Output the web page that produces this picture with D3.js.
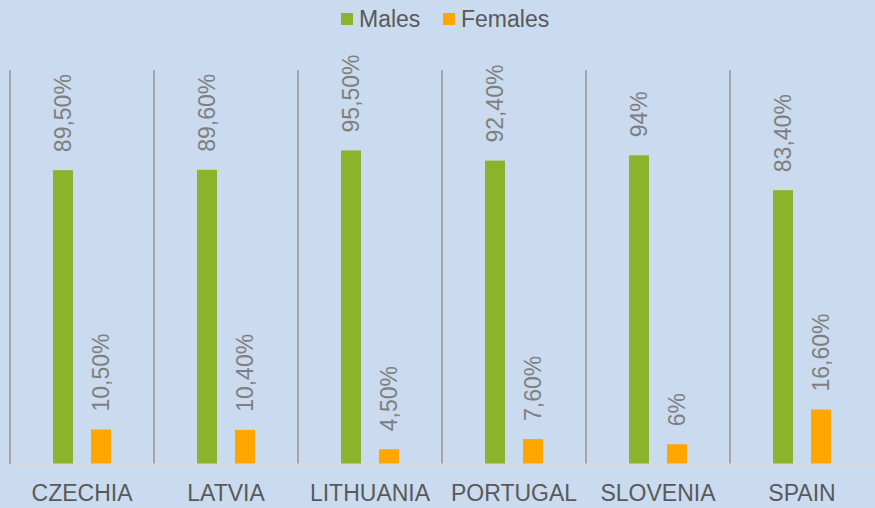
<!DOCTYPE html>
<html>
<head>
<meta charset="utf-8">
<title>Males vs Females</title>
<script src="https://cdn.jsdelivr.net/npm/d3@7"></script>
<style>
  body { margin: 0; background: #cadbf0; }
  svg { display: block; background: #cadbf0; font-family: "Liberation Sans", Arial, sans-serif; }
  .axis path { stroke: #d9d9d9; stroke-width: 2; }
  .axis text { font-size: 23px; fill: #595959; }
</style>
</head>
<body>
<script>
  var countries = ["CZECHIA", "LATVIA", "LITHUANIA", "PORTUGAL", "SLOVENIA", "SPAIN"];
  var series = ["Males", "Females"];
  var males = [89.5, 89.6, 95.5, 92.4, 94, 83.4];
  var females = [10.5, 10.4, 4.5, 7.6, 6, 16.6];
  var maleLabels = ["89,50%", "89,60%", "95,50%", "92,40%", "94%", "83,40%"];
  var femaleLabels = ["10,50%", "10,40%", "4,50%", "7,60%", "6%", "16,60%"];
  var colors = ["#8db32b", "#ffa600"];

  var w = 875, h = 508;
  // note: "top" is taken by window.top, so plotTop instead
  var plotTop = 70, plotBottom = 464, plotLeft = 10, plotRight = 874;

  var svg = d3.select("body").append("svg")
    .attr("width", w)
    .attr("height", h);

  var x = d3.scaleBand()
    .domain(countries)
    .range([plotLeft, plotRight]);

  // two bars inside each band
  var x1 = d3.scaleBand()
    .domain(series)
    .range([43, 101])
    .paddingInner(18 / 38);

  var y = d3.scaleLinear()
    .domain([0, 120])
    .range([plotBottom, plotTop]);

  // vertical separators between categories
  svg.append("g")
    .selectAll("line")
    .data(countries)
    .enter()
    .append("line")
    .attr("x1", function(d) { return x(d); })
    .attr("x2", function(d) { return x(d); })
    .attr("y1", plotTop)
    .attr("y2", plotBottom)
    .attr("stroke", "#a6a6a6")
    .attr("stroke-width", 2);

  var rows = countries.map(function(c, i) {
    return [
      { country: c, key: "Males", value: males[i], label: maleLabels[i] },
      { country: c, key: "Females", value: females[i], label: femaleLabels[i] }
    ];
  });

  var groups = svg.append("g")
    .selectAll("g")
    .data(rows)
    .enter()
    .append("g")
    .attr("transform", function(d) { return "translate(" + x(d[0].country) + ",0)"; });

  groups.selectAll("rect")
    .data(function(d) { return d; })
    .enter()
    .append("rect")
    .attr("x", function(d) { return x1(d.key); })
    .attr("width", x1.bandwidth())
    .attr("y", function(d) { return y(d.value); })
    .attr("height", function(d) { return plotBottom - y(d.value); })
    .attr("fill", function(d) { return colors[series.indexOf(d.key)]; });

  groups.selectAll("text")
    .data(function(d) { return d; })
    .enter()
    .append("text")
    .attr("transform", function(d) {
      var cx = x1(d.key) + x1.bandwidth() / 2;
      return "translate(" + cx + "," + (y(d.value) - 18) + ") rotate(-90)";
    })
    .attr("dy", "0.36em")
    .attr("font-size", "23px")
    .attr("fill", "#7f7f7f")
    .text(function(d) { return d.label; });

  // category axis
  var xAxis = d3.axisBottom(x).tickSize(0).tickPadding(21);
  svg.append("g")
    .attr("class", "axis")
    .attr("transform", "translate(0," + plotBottom + ")")
    .call(xAxis);

  // legend
  var legendX = [341, 443];
  var legend = svg.append("g")
    .selectAll("g")
    .data(series)
    .enter()
    .append("g")
    .attr("transform", function(d, i) { return "translate(" + legendX[i] + ",13)"; });

  legend.append("rect")
    .attr("width", 12)
    .attr("height", 12)
    .attr("fill", function(d, i) { return colors[i]; });

  legend.append("text")
    .attr("x", 18)
    .attr("y", 14)
    .attr("font-size", "23px")
    .attr("fill", "#595959")
    .text(function(d) { return d; });
</script>
</body>
</html>
